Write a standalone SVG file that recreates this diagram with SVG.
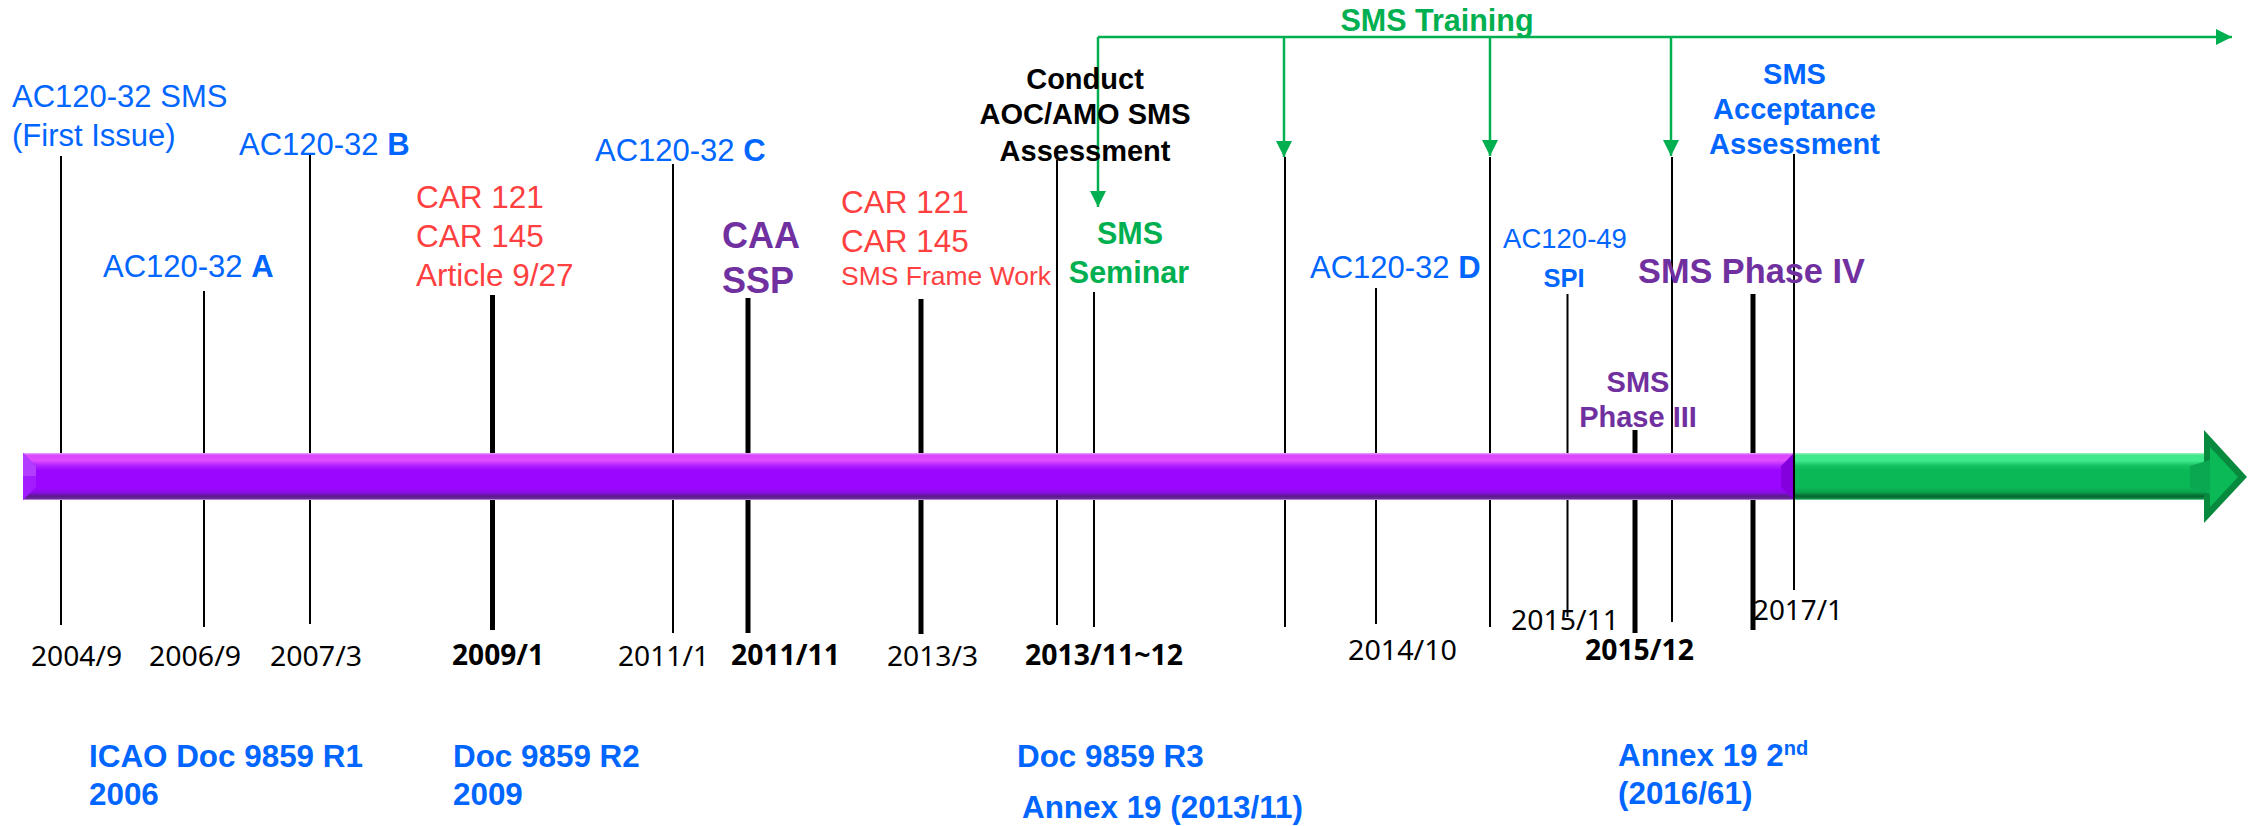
<svg xmlns="http://www.w3.org/2000/svg" width="2248" height="826" viewBox="0 0 2248 826">
<style>
.ln{stroke:#000;stroke-width:2;fill:none}
.lnb{stroke:#000;stroke-width:5;fill:none}
.tr{stroke:#00b050;stroke-width:2.5;fill:none}
.a{font-family:"Liberation Sans",Arial,sans-serif}
.b{font-weight:bold}
.d{font-family:"Noto Sans","Liberation Sans",sans-serif;font-size:28px;fill:#000}
.blue{fill:#0066ff}
.red{fill:#ff4040}
.pur{fill:#7030a0}
.grn{fill:#00b050}
.blk{fill:#000}
.c{text-anchor:middle}
</style>
<defs>
<linearGradient id="pg" x1="0" y1="0" x2="0" y2="1">
<stop offset="0" stop-color="#e6a6ff"/>
<stop offset="0.05" stop-color="#d946ff"/>
<stop offset="0.16" stop-color="#e04cff"/>
<stop offset="0.27" stop-color="#b020ff"/>
<stop offset="0.37" stop-color="#9a06ff"/>
<stop offset="0.74" stop-color="#9a06ff"/>
<stop offset="0.84" stop-color="#8a0ce6"/>
<stop offset="0.92" stop-color="#5c1a8c"/>
<stop offset="0.97" stop-color="#6a2a9a"/>
<stop offset="1" stop-color="#e0b0f5"/>
</linearGradient>
<linearGradient id="gg" x1="0" y1="0" x2="0" y2="1">
<stop offset="0" stop-color="#a0f0c0"/>
<stop offset="0.05" stop-color="#3fe88a"/>
<stop offset="0.16" stop-color="#40ea8c"/>
<stop offset="0.27" stop-color="#14c262"/>
<stop offset="0.37" stop-color="#0ab856"/>
<stop offset="0.74" stop-color="#0ab856"/>
<stop offset="0.84" stop-color="#0a9f4a"/>
<stop offset="0.92" stop-color="#06642e"/>
<stop offset="0.97" stop-color="#0c8a44"/>
<stop offset="1" stop-color="#90e0b0"/>
</linearGradient>
<marker id="ah" markerUnits="userSpaceOnUse" markerWidth="16" markerHeight="16" viewBox="0 0 16 16" refX="16" refY="8" orient="auto">
<path d="M0,0 L16,8 L0,16 Z" fill="#00b050"/>
</marker>
</defs>

<g id="connectors">
<line class="ln" x1="61" y1="156" x2="61" y2="625"/>
<line class="ln" x1="204" y1="291" x2="204" y2="627"/>
<line class="ln" x1="310" y1="155" x2="310" y2="624"/>
<line class="lnb" x1="492.5" y1="295" x2="492.5" y2="630"/>
<line class="ln" x1="673" y1="164" x2="673" y2="633"/>
<line class="lnb" x1="748" y1="298" x2="748" y2="633"/>
<line class="lnb" x1="921" y1="299" x2="921" y2="634"/>
<line class="ln" x1="1057" y1="160" x2="1057" y2="625"/>
<line class="ln" x1="1094" y1="292" x2="1094" y2="627"/>
<line class="ln" x1="1285" y1="157" x2="1285" y2="627"/>
<line class="ln" x1="1376" y1="288" x2="1376" y2="624"/>
<line class="ln" x1="1490" y1="157" x2="1490" y2="627"/>
<line class="ln" x1="1567.5" y1="294" x2="1567.5" y2="617"/>
<line class="lnb" x1="1635" y1="430" x2="1635" y2="633"/>
<line class="ln" x1="1672" y1="157" x2="1672" y2="622"/>
<line class="lnb" x1="1753" y1="294" x2="1753" y2="630"/>
<g id="training">
<path class="tr" d="M1098,37 L2232,37" marker-end="url(#ah)"/>
<path class="tr" d="M1098,37 L1098,207" marker-end="url(#ah)"/>
<path class="tr" d="M1284,37 L1284,157" marker-end="url(#ah)"/>
<path class="tr" d="M1490,37 L1490,156" marker-end="url(#ah)"/>
<path class="tr" d="M1671,37 L1671,156" marker-end="url(#ah)"/>
</g>
</g>

<g id="timeline-bar">
<rect x="23" y="453" width="1772" height="47" fill="url(#pg)"/>
<polygon points="23,453 36,466 36,487 23,500" fill="#a31cff"/>
<polygon points="23,453 36,466 36,476 23,476" fill="#b23cff"/>
<polygon points="1781,466 1794,453 1794,500 1781,487" fill="#8400dc"/>
<rect x="1795" y="453" width="412" height="47" fill="url(#gg)"/>
<polygon points="2204,430 2247,477 2204,523" fill="#078a3e"/>
<polygon points="2210,447 2238,477 2210,507" fill="#0bb956"/>
<polygon points="2190,466 2210,460 2210,494 2190,488" fill="#0aa850"/>
<line class="ln" x1="1794" y1="154" x2="1794" y2="590"/>
</g>

<g id="ac120-32-sms"><text class="a blue" font-size="31" x="12" y="107">AC120-32 SMS</text><text class="a blue" font-size="31" x="12" y="146">(First Issue)</text></g>
<g id="ac120-32-a"><text class="a blue" font-size="31" x="103" y="277">AC120-32 <tspan class="b">A</tspan></text></g>
<g id="ac120-32-b"><text class="a blue" font-size="31" x="239" y="155">AC120-32 <tspan class="b">B</tspan></text></g>
<g id="car-2009"><text class="a red" font-size="31.5" x="416" y="208">CAR 121</text><text class="a red" font-size="31.5" x="416" y="247">CAR 145</text><text class="a red" font-size="31.5" x="416" y="286">Article 9/27</text></g>
<g id="ac120-32-c"><text class="a blue" font-size="31" x="595" y="161">AC120-32 <tspan class="b">C</tspan></text></g>
<g id="caa-ssp"><text class="a b pur" font-size="36" x="722" y="248">CAA</text><text class="a b pur" font-size="36" x="722" y="293">SSP</text></g>
<g id="car-2013"><text class="a red" font-size="31.5" x="841" y="213">CAR 121</text><text class="a red" font-size="31.5" x="841" y="252">CAR 145</text><text class="a red" font-size="26.5" x="841" y="285">SMS Frame Work</text></g>
<g id="conduct"><text class="a b blk c" font-size="29" x="1085" y="89">Conduct</text><text class="a b blk c" font-size="29" x="1085" y="124">AOC/AMO SMS</text><text class="a b blk c" font-size="29" x="1085" y="161">Assessment</text></g>
<g id="sms-training-label"><text class="a b grn c" font-size="30.5" x="1437" y="31">SMS Training</text></g>
<g id="sms-seminar"><text class="a b grn c" font-size="30.5" x="1130" y="244">SMS</text><text class="a b grn c" font-size="30.5" x="1129" y="283">Seminar</text></g>
<g id="ac120-32-d"><text class="a blue" font-size="31" x="1310" y="278">AC120-32 <tspan class="b">D</tspan></text></g>
<g id="ac120-49"><text class="a blue c" font-size="27.5" x="1565" y="248">AC120-49</text><text class="a b blue c" font-size="25.5" x="1564" y="287">SPI</text></g>
<g id="phase-iv"><text class="a b pur" font-size="34.3" x="1638" y="283">SMS Phase IV</text></g>
<g id="phase-iii"><text class="a b pur c" font-size="29" x="1638" y="392">SMS</text><text class="a b pur c" font-size="29" x="1638" y="427">Phase III</text></g>
<g id="acceptance"><text class="a b blue c" font-size="29" x="1794.5" y="84">SMS</text><text class="a b blue c" font-size="29" x="1794.5" y="119">Acceptance</text><text class="a b blue c" font-size="29" x="1794.5" y="154">Assessment</text></g>

<g id="dates">
<text class="d" x="31" y="666" textLength="91" lengthAdjust="spacingAndGlyphs">2004/9</text>
<text class="d" x="149" y="666" textLength="92" lengthAdjust="spacingAndGlyphs">2006/9</text>
<text class="d" x="270" y="666" textLength="92" lengthAdjust="spacingAndGlyphs">2007/3</text>
<text class="d b" x="452" y="665" textLength="92" lengthAdjust="spacingAndGlyphs">2009/1</text>
<text class="d" x="618" y="666" textLength="91" lengthAdjust="spacingAndGlyphs">2011/1</text>
<text class="d b" x="731" y="665" textLength="109" lengthAdjust="spacingAndGlyphs">2011/11</text>
<text class="d" x="887" y="666" textLength="91" lengthAdjust="spacingAndGlyphs">2013/3</text>
<text class="d b" x="1025" y="665" textLength="158" lengthAdjust="spacingAndGlyphs">2013/11~12</text>
<text class="d" x="1348" y="660" textLength="109" lengthAdjust="spacingAndGlyphs">2014/10</text>
<text class="d" x="1511" y="630" textLength="108" lengthAdjust="spacingAndGlyphs">2015/11</text>
<text class="d b" x="1585" y="660" textLength="109" lengthAdjust="spacingAndGlyphs">2015/12</text>
<text class="d" x="1753" y="620" textLength="90" lengthAdjust="spacingAndGlyphs">2017/1</text>
</g>

<g id="icao-r1"><text class="a b blue" font-size="31.4" x="89" y="767">ICAO Doc 9859 R1</text><text class="a b blue" font-size="31.4" x="89" y="805">2006</text></g>
<g id="icao-r2"><text class="a b blue" font-size="31.4" x="453" y="767">Doc 9859 R2</text><text class="a b blue" font-size="31.4" x="453" y="805">2009</text></g>
<g id="icao-r3"><text class="a b blue" font-size="31.4" x="1017" y="767">Doc 9859 R3</text><text class="a b blue" font-size="31.4" x="1022" y="818">Annex 19 (2013/11)</text></g>
<g id="annex19-2nd"><text class="a b blue" font-size="31.4" x="1618" y="766">Annex 19 2<tspan font-size="20" dy="-11">nd</tspan></text><text class="a b blue" font-size="31.4" x="1618" y="804">(2016/61)</text></g>
</svg>
